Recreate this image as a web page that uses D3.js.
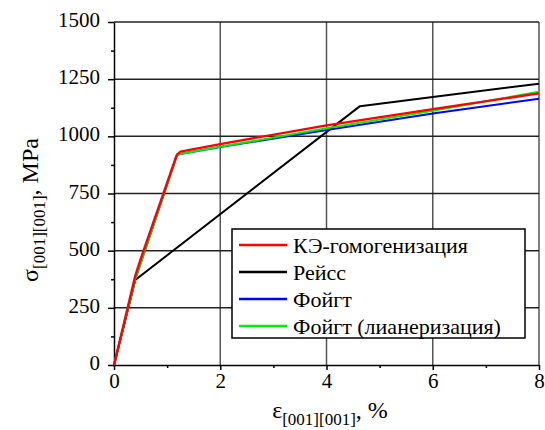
<!DOCTYPE html>
<html>
  <head>
    <meta charset="utf-8">
    <script src="https://cdn.jsdelivr.net/npm/d3@7"></script>
  </head>
  <body style="margin: 0; background: #fff; font-family: 'Liberation Serif', serif;">
    <svg id="chart" width="545" height="430" font-family="Liberation Serif"></svg>

    <script>
      // data (strain %, stress MPa)
      femHom = [[0, 0], [0.4, 390], [0.5, 462], [1.18, 918], [1.25, 933], [2, 966], [4, 1048], [6, 1119], [8, 1188]];
      reuss = [[0, 0], [0.4, 372], [4.63, 1132], [6, 1172], [8, 1230]];
      voigt = [[0, 0], [0.4, 375], [1.19, 921], [2, 953], [4, 1028], [6, 1100], [8, 1164]];
      voigtLin = [[0, 0], [0.4, 375], [1.19, 921], [2, 954], [4, 1035], [6, 1112], [8, 1195]];

      seriesNames = ["КЭ-гомогенизация", "Рейсс", "Фойгт", "Фойгт (лианеризация)"];
      seriesColours = ["#ff0000", "#000000", "#0000ff", "#00ee00"];
      seriesData = [femHom, reuss, voigt, voigtLin];
      drawOrder = [1, 2, 3, 0];

      xTicks = [0, 2, 4, 6, 8];
      yTicks = [0, 250, 500, 750, 1000, 1250, 1500];

      font = "Liberation Serif";

      // layout
      svg = d3.select("#chart");
      margin = { left: 114, right: 6, top: 22, bottom: 65 };
      width = 545 - margin.left - margin.right;
      height = 430 - margin.top - margin.bottom;

      g = svg.append("g")
        .attr("transform", "translate(" + margin.left + "," + margin.top + ")");

      x = d3.scaleLinear().domain([0, 8]).range([0, width]);
      y = d3.scaleLinear().domain([0, 1500]).range([height, 0]);

      // grid
      grid = g.append("g");
      grid.selectAll(".gx")
        .data(xTicks.slice(1))
        .enter().append("line")
          .attr("x1", function(d) { return x(d); })
          .attr("x2", function(d) { return x(d); })
          .attr("y1", 0)
          .attr("y2", height)
          .attr("stroke", "#555")
          .attr("stroke-width", 1.5);
      grid.selectAll(".gy")
        .data(yTicks.slice(1))
        .enter().append("line")
          .attr("x1", 0)
          .attr("x2", width)
          .attr("y1", function(d) { return y(d); })
          .attr("y2", function(d) { return y(d); })
          .attr("stroke", "#222")
          .attr("stroke-width", 1.5);

      function styleAxis(sel) {
        sel.attr("font-family", font);
        sel.selectAll("path, line").attr("stroke", "#000").attr("stroke-width", 1.5);
        sel.selectAll("text").attr("fill", "#000").attr("font-size", 21).attr("font-family", font);
      }

      // minor ticks
      g.append("g")
        .attr("transform", "translate(0," + height + ")")
        .call(d3.axisBottom(x).tickValues([1, 3, 5, 7]).tickSize(3).tickFormat(""))
        .call(styleAxis)
        .select(".domain").remove();
      g.append("g")
        .call(d3.axisLeft(y).tickValues(d3.range(125, 1500, 250)).tickSize(3).tickFormat(""))
        .call(styleAxis)
        .select(".domain").remove();

      // main axes
      xAxis = g.append("g")
        .attr("transform", "translate(0," + height + ")")
        .call(d3.axisBottom(x).tickValues(xTicks).tickSize(5).tickPadding(3).tickSizeOuter(0).tickFormat(d3.format("d")))
        .call(styleAxis);
      yAxis = g.append("g")
        .call(d3.axisLeft(y).tickValues(yTicks).tickSize(6).tickPadding(8).tickSizeOuter(0).tickFormat(d3.format("d")))
        .call(styleAxis);
      yAxis.selectAll("text").attr("dy", "0.22em");

      // curves
      line = d3.line()
        .x(function(d) { return x(d[0]); })
        .y(function(d) { return y(d[1]); });

      g.selectAll(".curve")
        .data(drawOrder)
        .enter().append("path")
          .attr("d", function(i) { return line(seriesData[i]); })
          .attr("fill", "none")
          .attr("stroke", function(i) { return seriesColours[i]; })
          .attr("stroke-width", function(i) { return i == 0 ? 2.4 : 2; })
          .attr("stroke-linejoin", "round");

      // legend
      legend = svg.append("g")
        .attr("transform", "translate(232,229)");
      legend.append("rect")
        .attr("width", 293)
        .attr("height", 109)
        .attr("fill", "#fff")
        .attr("stroke", "#000")
        .attr("stroke-width", 1.5);
      items = legend.selectAll(".item")
        .data(seriesNames)
        .enter().append("g")
          .attr("transform", function(d, i) { return "translate(0," + (16 + i * 27) + ")"; });
      items.append("line")
        .attr("x1", 7)
        .attr("x2", 55)
        .attr("stroke", function(d, i) { return seriesColours[i]; })
        .attr("stroke-width", 2.5);
      items.append("text")
        .attr("font-family", font)
        .attr("font-size", 22)
        .attr("x", 61)
        .attr("y", 8)
        .text(function(d) { return d; });

      // axis titles
      xTitle = svg.append("text")
        .attr("font-family", font)
        .attr("font-size", 24)
        .attr("x", 330)
        .attr("y", 418)
        .attr("text-anchor", "middle");
      xTitle.append("tspan").text("ε");
      xTitle.append("tspan").attr("dy", 7).attr("font-size", 17).text("[001][001]");
      xTitle.append("tspan").attr("dy", -7).text(", %");

      yTitle = svg.append("text")
        .attr("font-family", font)
        .attr("font-size", 24)
        .attr("transform", "translate(38,210) rotate(-90)")
        .attr("text-anchor", "middle");
      yTitle.append("tspan").text("σ");
      yTitle.append("tspan").attr("dy", 7).attr("font-size", 17).text("[001][001]");
      yTitle.append("tspan").attr("dy", -7).text(", MPa");
    </script>
  </body>
</html>
